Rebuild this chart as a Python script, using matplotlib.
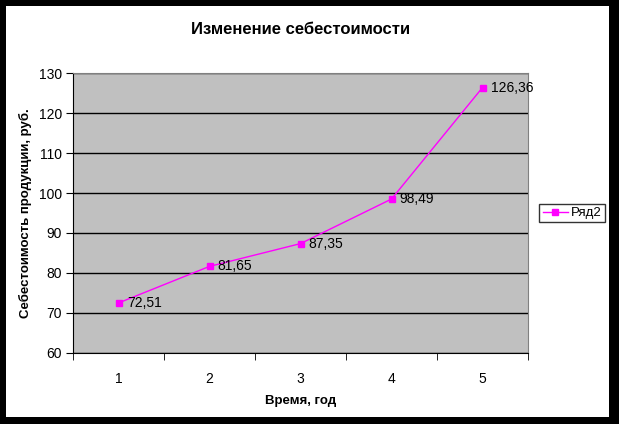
import matplotlib.pyplot as plt
from matplotlib.patches import Rectangle

plt.rcParams['font.family'] = ['Liberation Sans', 'DejaVu Sans']

years = [1, 2, 3, 4, 5]
cost = [72.51, 81.65, 87.35, 98.49, 126.36]
labels = ['72,51', '81,65', '87,35', '98,49', '126,36']

fig = plt.figure(figsize=(6.19, 4.24), dpi=100)
fig.patch.set_facecolor('black')
# white chart area inside the black frame
fig.patches.append(Rectangle((6 / 619, 7 / 424), 603 / 619, 411 / 424,
                             transform=fig.transFigure, facecolor='white',
                             edgecolor='none', zorder=-10))

ax = fig.add_axes([73 / 619, 71 / 424, 455 / 619, 280 / 424])
ax.set_facecolor('#c0c0c0')
ax.plot(years, cost, color='#ff00ff', lw=1, marker='s', ms=5,
        mec='#ff00ff', mfc='#ff00ff', label='Ряд2', zorder=3)
for x, y, t in zip(years, cost, labels):
    ax.annotate(t, (x, y), xytext=(6, 0), textcoords='offset points',
                va='center', ha='left', fontsize=10)

ax.set_xlim(0.5, 5.5)
ax.set_ylim(60, 130)
ax.set_yticks(range(60, 131, 10))
ax.set_xticks(years)
ax.set_xticks([0.5, 1.5, 2.5, 3.5, 4.5, 5.5], minor=True)
ax.tick_params(axis='x', which='major', length=0, pad=14, labelsize=10)
ax.tick_params(axis='x', which='minor', length=5, direction='out', color='black')
ax.tick_params(axis='y', length=5, direction='out', labelsize=10, pad=3)
ax.yaxis.grid(True, color='black', lw=1)
ax.set_axisbelow(True)
for s in ['top', 'right']:
    ax.spines[s].set_color('#808080')
for s in ['left', 'bottom']:
    ax.spines[s].set_color('black')

ax.set_title('Изменение себестоимости', fontsize=12, fontweight='bold', pad=28)
ax.set_xlabel('Время, год', fontsize=9.5, fontweight='bold', labelpad=6)
ax.set_ylabel('Себестоимость продукции, руб.', fontsize=9.5, fontweight='bold', labelpad=5)

leg = ax.legend(loc='center left', bbox_to_anchor=(1.025, 0.5), fontsize=9.5,
                frameon=True, fancybox=False, handlelength=1.9,
                borderpad=0.25, handletextpad=0.25, borderaxespad=0)
leg.get_frame().set_edgecolor('black')
leg.get_frame().set_linewidth(1)

fig.savefig('out.png', dpi=100, facecolor=fig.get_facecolor())
